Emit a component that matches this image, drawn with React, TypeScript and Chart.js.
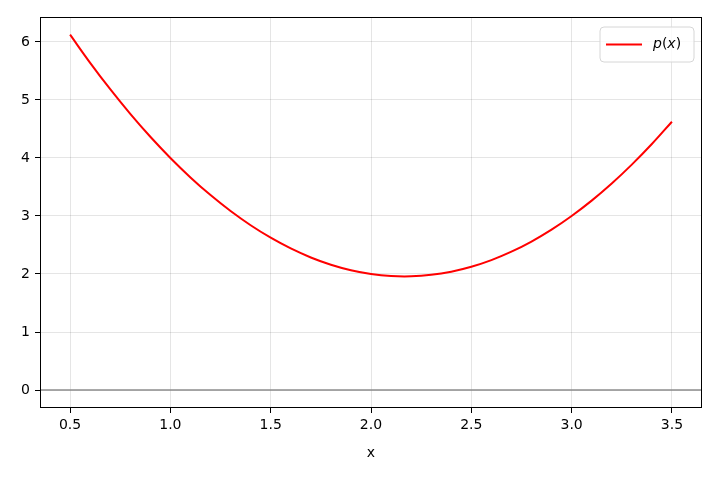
import React, { useEffect, useRef } from 'react'
import { Chart, registerables } from 'chart.js'

Chart.register(...registerables)

const xValues = [
	0.5, 0.6, 0.7, 0.8, 0.9, 1.0, 1.1, 1.2, 1.3, 1.4, 1.5, 1.6, 1.7, 1.8, 1.9, 2.0,
	2.1, 2.2, 2.3, 2.4, 2.5, 2.6, 2.7, 2.8, 2.9, 3.0, 3.1, 3.2, 3.3, 3.4, 3.5,
]
const pValues = [
	6.125, 5.64, 5.185, 4.76, 4.365, 4.0, 3.665, 3.36, 3.085, 2.84, 2.625, 2.44,
	2.285, 2.16, 2.065, 2.0, 1.965, 1.96, 1.985, 2.04, 2.125, 2.24, 2.385, 2.56,
	2.765, 3.0, 3.265, 3.56, 3.885, 4.24, 4.625,
]
const xTicks = [0.5, 1.0, 1.5, 2.0, 2.5, 3.0, 3.5]
const yTicks = [0, 1, 2, 3, 4, 5, 6]

const FONT = "'DejaVu Sans', sans-serif"

// frame, zero line and legend drawn like matplotlib
const decorPlugin = {
	id: 'decor',
	beforeDatasetsDraw(chart: any) {
		const { ctx, chartArea, scales } = chart
		const y0 = scales.y.getPixelForValue(0)
		ctx.save()
		ctx.strokeStyle = '#8c8c8c'
		ctx.lineWidth = 1.5
		ctx.beginPath()
		ctx.moveTo(chartArea.left, y0)
		ctx.lineTo(chartArea.right, y0)
		ctx.stroke()
		ctx.restore()
	},
	afterDraw(chart: any) {
		const { ctx, chartArea } = chart
		ctx.save()
		ctx.strokeStyle = '#000'
		ctx.lineWidth = 1
		ctx.strokeRect(
			chartArea.left + 0.5,
			chartArea.top + 0.5,
			chartArea.right - chartArea.left - 1,
			chartArea.bottom - chartArea.top - 1
		)
		// legend
		const w = 94
		const h = 35
		const bx = chartArea.right - 8 - w
		const by = chartArea.top + 10
		ctx.beginPath()
		ctx.roundRect(bx, by, w, h, 4)
		ctx.fillStyle = 'rgba(255,255,255,0.8)'
		ctx.fill()
		ctx.strokeStyle = '#d6d6d6'
		ctx.lineWidth = 1
		ctx.stroke()
		const ly = by + h / 2
		ctx.strokeStyle = '#ff0000'
		ctx.lineWidth = 2
		ctx.beginPath()
		ctx.moveTo(bx + 6, ly)
		ctx.lineTo(bx + 42, ly)
		ctx.stroke()
		ctx.fillStyle = '#000'
		ctx.textBaseline = 'middle'
		let tx = bx + 53
		const parts: [string, boolean][] = [
			['p', true],
			['(', false],
			['x', true],
			[')', false],
		]
		for (const [t, it] of parts) {
			ctx.font = `${it ? 'italic ' : ''}14px ${FONT}`
			ctx.fillText(t, tx, ly)
			tx += ctx.measureText(t).width
		}
		ctx.restore()
	},
}

const App: React.FC = () => {
	const chartRef = useRef<HTMLCanvasElement>(null)

	useEffect(() => {
		document.body.style.margin = '0'
		if (!chartRef.current) return
		const context = chartRef.current.getContext('2d')
		if (!context) return

		const chart = new Chart(context, {
			type: 'line',
			data: {
				datasets: [
					{
						label: 'p(x)',
						data: xValues.map((x, i) => ({ x, y: pValues[i] })),
						borderColor: '#ff0000',
						borderWidth: 2,
						pointRadius: 0,
						tension: 0.4,
						fill: false,
					},
				],
			},
			options: {
				animation: false,
				responsive: false,
				maintainAspectRatio: false,
				layout: { padding: { left: 0, top: 17, right: 18, bottom: 18 } },
				plugins: {
					legend: { display: false },
					tooltip: { enabled: false },
				},
				scales: {
					x: {
						type: 'linear',
						min: 0.35,
						max: 3.65,
						afterBuildTicks: (scale: any) => {
							scale.ticks = xTicks.map((v) => ({ value: v }))
						},
						afterFit: (scale: any) => {
							scale.height = 54
						},
						ticks: {
							color: '#000',
							font: { family: FONT, size: 14 },
							padding: 4,
							maxRotation: 0,
							callback: (v: any) => Number(v).toFixed(1),
						},
						grid: {
							color: 'rgba(0,0,0,0.1)',
							tickColor: '#000',
							tickLength: 5,
						},
						border: { display: false },
						title: {
							display: true,
							text: 'x',
							color: '#000',
							font: { family: FONT, size: 14 },
							padding: { top: 4, bottom: 0 },
						},
					},
					y: {
						type: 'linear',
						min: -0.31,
						max: 6.43,
						afterBuildTicks: (scale: any) => {
							scale.ticks = yTicks.map((v) => ({ value: v }))
						},
						afterFit: (scale: any) => {
							scale.width = 40
						},
						ticks: {
							color: '#000',
							font: { family: FONT, size: 14 },
							padding: 5,
							callback: (v: any) => String(v),
						},
						grid: {
							color: 'rgba(0,0,0,0.1)',
							tickColor: '#000',
							tickLength: 5,
						},
						border: { display: false },
					},
				},
			},
			plugins: [decorPlugin],
		})

		return () => {
			chart.destroy()
		}
	}, [])

	return (
		<div style={{ width: 720, height: 480, background: '#fff' }}>
			<canvas ref={chartRef} width={720} height={480} />
		</div>
	)
}

export default App
